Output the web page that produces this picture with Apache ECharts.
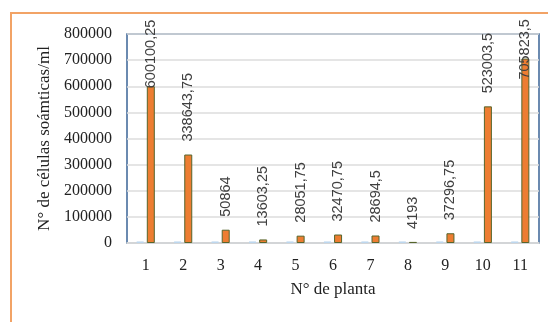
<!DOCTYPE html>
<html><head><meta charset="utf-8">
<script src="https://cdn.jsdelivr.net/npm/echarts@6/dist/echarts.min.js"></script>
<style>html,body{margin:0;padding:0;background:#fff}#c{width:548px;height:322px}</style>
</head><body><div id="c"></div>
<script>
const categories = ['1','2','3','4','5','6','7','8','9','10','11'];
const blueValues = [6000,6000,6000,6000,6000,6000,6000,6000,6000,6000,6000];
const orangeValues = [600100.25,338643.75,50864,13603.25,28051.75,32470.75,28694.5,4193,37296.75,523003.5,705823.5];
const orangeLabels = ['600100,25','338643,75','50864','13603,25','28051,75','32470,75','28694,5','4193','37296,75','523003,5','705823,5'];
const yTicks = [0,100000,200000,300000,400000,500000,600000,700000,800000];
const labelShift = [15,0,0,0,0,0,0,0,0,0,34];

const chart = echarts.init(document.getElementById('c'), null, {renderer:'canvas'});
const serif = '"Liberation Serif","Times New Roman",serif';
chart.setOption({
  animation:false,
  backgroundColor:'#fff',
  graphic:[{type:'rect',shape:{x:11,y:13,width:560,height:340},style:{fill:'none',stroke:'#f2a366',lineWidth:2},z:100,silent:true}],
  grid:{left:127,right:9,top:34,bottom:79,show:true,borderColor:'#3b6496',borderWidth:1.5,backgroundColor:'transparent'},
  xAxis:{type:'category',data:categories,
    name:'N° de planta',nameLocation:'middle',nameGap:38,
    nameTextStyle:{fontFamily:serif,fontSize:17,color:'#222'},
    axisLine:{show:true,lineStyle:{color:'#d9d9d9',width:1.5}},
    axisTick:{show:false},
    axisLabel:{fontFamily:serif,fontSize:16,color:'#222',margin:15}},
  yAxis:{type:'value',min:yTicks[0],max:yTicks[yTicks.length-1],interval:100000,
    name:'N° de células soámticas/ml',nameLocation:'middle',nameGap:61,
    nameTextStyle:{fontFamily:serif,fontSize:17,color:'#222'},
    axisLine:{show:false},axisTick:{show:false},
    splitLine:{lineStyle:{color:'#dcdcdc',width:1.5}},
    axisLabel:{fontFamily:serif,fontSize:16,color:'#222',margin:15,formatter:v=>String(v)}},
  series:[
    {type:'bar',data:blueValues,barWidth:7,barGap:'45%',itemStyle:{color:'#bdd7ee'},label:{show:false}},
    {type:'bar',data:orangeValues.map((v,i)=>({value:v,label:{offset:[-labelShift[i],0]}})),barWidth:8,
      itemStyle:{color:'#ed7d31',borderColor:'#55652c',borderWidth:1},
      label:{show:true,position:'top',rotate:90,align:'left',verticalAlign:'middle',distance:13,
        fontFamily:'"Liberation Sans",Arial,sans-serif',fontSize:14.5,color:'#404040',
        formatter:p=>orangeLabels[p.dataIndex]}}
  ]
});
</script></body></html>
